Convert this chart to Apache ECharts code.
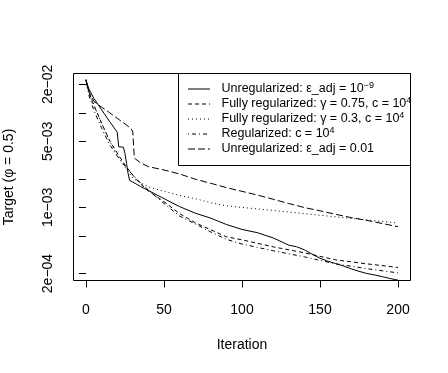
<!DOCTYPE html>
<html>
<head>
<meta charset="utf-8">
<script src="https://cdn.jsdelivr.net/npm/echarts@6/dist/echarts.min.js"></script>
<style>
  html, body { margin: 0; padding: 0; background: #fff; }
  #chart { width: 448px; height: 373px; }
</style>
</head>
<body>
<div id="chart"></div>
<script>
// iterations shared by the smoother curves
var iterations = [0, 2, 5, 10, 15, 20, 25, 30, 35, 40, 50, 60, 70, 80, 90, 100, 120, 140, 160, 180, 200];
var fullRegA = [0.0222, 0.0162, 0.0121, 0.0078, 0.00516, 0.00377, 0.00281, 0.0022, 0.00177, 0.00149, 0.00115, 0.00086, 0.00069, 0.00058, 0.000489, 0.000454, 0.000383, 0.000331, 0.000279, 0.000253, 0.000232];
var fullRegB = [0.0222, 0.0166, 0.0122, 0.0077, 0.0051, 0.00358, 0.00267, 0.00204, 0.00182, 0.00165, 0.00148, 0.00134, 0.00124, 0.00112, 0.00104, 0.00100, 0.00093, 0.00086, 0.000795, 0.000738, 0.000684];
var regC = [0.0222, 0.0151, 0.0107, 0.0069, 0.00467, 0.0035, 0.00275, 0.0022, 0.00181, 0.00153, 0.0011, 0.00081, 0.00067, 0.00055, 0.00046, 0.00041, 0.000348, 0.0003, 0.000253, 0.000225, 0.000203];

// unregularized eps_adj = 1e-9 (has steps early on)
var iterUnreg9 = [0, 2, 5, 10, 15, 20, 21, 24, 25, 26, 27, 28, 30, 35, 40, 50, 60, 70, 80, 90, 100, 110, 120, 125, 130, 135, 140, 145, 150, 155, 160, 165, 170, 175, 180, 185, 190, 195, 200];
var unreg9 = [0.0217, 0.0178, 0.0143, 0.0108, 0.00818, 0.00627, 0.00439, 0.00433, 0.00371, 0.00292, 0.00228, 0.00193, 0.00186, 0.00166, 0.00151, 0.00124, 0.00102, 0.00087, 0.00077, 0.00066, 0.000585, 0.00054, 0.000475, 0.000436, 0.000399, 0.000384, 0.000356, 0.00032, 0.00029, 0.00027, 0.000255, 0.00024, 0.000224, 0.000211, 0.0002, 0.000193, 0.000185, 0.000177, 0.00017];

// unregularized eps_adj = 0.01 (big drop near 30)
var iterUnreg01 = [0, 2, 5, 10, 15, 20, 25, 29, 30, 31, 35, 40, 50, 60, 70, 80, 90, 100, 110, 120, 130, 140, 150, 160, 170, 180, 190, 200];
var unreg01 = [0.0227, 0.0166, 0.0133, 0.0115, 0.0101, 0.00877, 0.00765, 0.0068, 0.0063, 0.00333, 0.00296, 0.0027, 0.00249, 0.00226, 0.00199, 0.0018, 0.00162, 0.00148, 0.00135, 0.00122, 0.0011, 0.000997, 0.000921, 0.000846, 0.00078, 0.00073, 0.000675, 0.000625];

var xTicks = [0, 50, 100, 150, 200];
var yTicks = [2e-4, 5e-4, 1e-3, 2e-3, 5e-3, 1e-2, 2e-2];
var yLabelValues = [2e-4, 1e-3, 5e-3, 2e-2];
var yLabels = ['2e\u221204', '1e\u221203', '5e\u221203', '2e\u221202'];

var legendNames = [
  'Unregularized: \u03b5_adj = 10{sup|\u22129}',
  'Fully regularized: \u03b3 = 0.75, c = 10{sup|4}',
  'Fully regularized: \u03b3 = 0.3, c = 10{sup|4}',
  'Regularized: c = 10{sup|4}',
  'Unregularized: \u03b5_adj = 0.01'
];
var dashes = ['solid', [4, 3], [1, 3], [1, 3, 4, 3], [7, 3]];

var FONT = '"Liberation Sans", Arial, Helvetica, sans-serif';

function pairs(xs, ys) {
  return xs.map(function (x, i) { return [x, Math.log10(ys[i])]; });
}

var curves = [
  pairs(iterUnreg9, unreg9),
  pairs(iterations, fullRegA),
  pairs(iterations, fullRegB),
  pairs(iterations, regC),
  pairs(iterUnreg01, unreg01)
];

var chart = echarts.init(document.getElementById('chart'), null, { renderer: 'canvas' });

var series = curves.map(function (d, i) {
  return {
    type: 'line',
    data: d,
    symbol: 'none',
    silent: true,
    clip: true,
    lineStyle: { color: '#000', width: 1, type: dashes[i] },
    z: 2
  };
});

// legend drawn by hand, R style
var legendLeft = 178.5, legendTop = 73.5, legendRight = 410.5, legendBottom = 165.5;
var rowY = [89, 104, 119, 134, 149];
var graphics = [{
  type: 'rect',
  shape: { x: legendLeft, y: legendTop, width: legendRight - legendLeft, height: legendBottom - legendTop },
  style: { fill: '#fff', stroke: '#000', lineWidth: 1 },
  z: 100
}];
legendNames.forEach(function (name, i) {
  graphics.push({
    type: 'line',
    shape: { x1: 188, y1: rowY[i], x2: 210, y2: rowY[i] },
    style: { stroke: '#000', lineWidth: 1, lineDash: dashes[i] === 'solid' ? null : dashes[i] },
    z: 101
  });
  graphics.push({
    type: 'text',
    x: 221.5,
    y: rowY[i],
    style: {
      text: name,
      font: '12.5px ' + FONT,
      fill: '#000',
      verticalAlign: 'middle',
      lineHeight: 15,
      rich: { sup: { fontSize: 9, fontFamily: FONT, lineHeight: 8, verticalAlign: 'top', fill: '#000' } }
    },
    z: 101
  });
});
graphics.push({
  type: 'text',
  x: 242,
  y: 345,
  style: { text: 'Iteration', font: '14px ' + FONT, fill: '#000', align: 'center', verticalAlign: 'middle' }
});
graphics.push({
  type: 'text',
  x: 9,
  y: 177,
  rotation: Math.PI / 2,
  style: { text: 'Target (\u03c6 = 0.5)', font: '14px ' + FONT, fill: '#000', align: 'center', verticalAlign: 'middle' }
});

var option = {
  animation: false,
  backgroundColor: '#fff',
  grid: {
    left: 73.5, top: 73.5, right: 37.5, bottom: 92.5,
    show: true, borderColor: '#000', borderWidth: 1, backgroundColor: 'transparent'
  },
  xAxis: {
    type: 'value',
    min: -8,
    max: 208,
    axisLine: { show: false },
    splitLine: { show: false },
    axisTick: { show: true, length: 7, customValues: xTicks, lineStyle: { color: '#000' } },
    axisLabel: {
      customValues: xTicks,
      margin: 23,
      color: '#000',
      fontSize: 14,
      fontFamily: FONT
    }
  },
  yAxis: {
    type: 'value',
    min: -3.773,
    max: -1.583,
    axisLine: { show: false },
    splitLine: { show: false },
    axisTick: { show: true, length: 7, customValues: yTicks.map(Math.log10), lineStyle: { color: '#000' } },
    axisLabel: {
      customValues: yLabelValues.map(Math.log10),
      rotate: 90,
      margin: 18,
      color: '#000',
      fontSize: 14,
      fontFamily: FONT,
      formatter: function (v) {
        var best = 0;
        for (var i = 0; i < yLabelValues.length; i++) {
          if (Math.abs(Math.log10(yLabelValues[i]) - v) < Math.abs(Math.log10(yLabelValues[best]) - v)) best = i;
        }
        return yLabels[best];
      }
    }
  },
  graphic: graphics,
  series: series
};

chart.setOption(option);
</script>
</body>
</html>
